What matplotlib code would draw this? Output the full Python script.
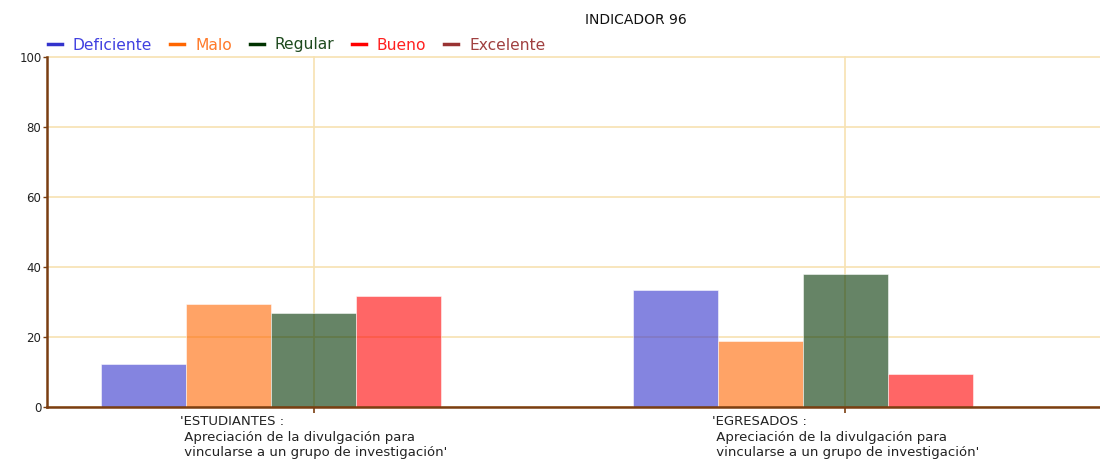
import matplotlib.pyplot as plt
import numpy as np
from matplotlib.lines import Line2D

# datos del indicador
categorias = ["'ESTUDIANTES :\n Apreciación de la divulgación para\n vincularse a un grupo de investigación'",
              "'EGRESADOS :\n Apreciación de la divulgación para\n vincularse a un grupo de investigación'"]
series = ['Deficiente', 'Malo', 'Regular', 'Bueno', 'Excelente']
deficiente = [12.2, 33.3]
malo = [29.3, 19.0]
regular = [26.8, 38.1]
bueno = [31.7, 9.5]
excelente = [0, 0]
valores = [deficiente, malo, regular, bueno, excelente]

colores = ['#3333CC', '#FF6600', '#003300', '#FF0000', '#993333']
colores_texto = ['#4040E0', '#FF7A2A', '#1E4A1E', '#FF2020', '#A04040']
marron = '#7A3E12'

fig = plt.figure(figsize=(11, 4.62), dpi=100)
ax = fig.add_axes([47 / 1100, 1 - 407 / 462, 1 - 47 / 1100, 350 / 462])

x = np.arange(len(categorias))
ancho = 0.16
for i, (nombre, vals) in enumerate(zip(series, valores)):
    ax.bar(x + (i - 2) * ancho, vals, ancho, color=colores[i], alpha=0.6,
           edgecolor='white', linewidth=0.6, label=nombre)

ax.set_xlim(-0.502, 1.479)
ax.set_ylim(0, 100)
ax.set_yticks([0, 20, 40, 60, 80, 100])
ax.set_xticks(x)
ax.set_xticklabels(categorias, fontsize=9.5, color='#222222',
                   ha='center', multialignment='left', linespacing=1.25)

ax.set_axisbelow(True)
ax.grid(True, color='#F7E2B2', linewidth=1.2)
for g in ax.get_ygridlines() + ax.get_xgridlines():
    g.set_clip_on(False)

for lado in ['top', 'right']:
    ax.spines[lado].set_visible(False)
for lado in ['left', 'bottom']:
    ax.spines[lado].set_color(marron)
    ax.spines[lado].set_linewidth(1.8)
    ax.spines[lado].set_zorder(3)

ax.tick_params(axis='y', colors=marron, labelcolor='#222222', labelsize=8.5,
               length=3, width=1, pad=1)
ax.tick_params(axis='x', colors=marron, labelcolor='#222222',
               length=4, width=1.2, pad=2)

# leyenda con guiones de color
manejadores = [Line2D([0], [0], color=c, linewidth=2.5) for c in colores]
leg = fig.legend(manejadores, series, loc='center left',
                 bbox_to_anchor=(48 / 1100, 1 - 45 / 462), ncol=5,
                 frameon=False, fontsize=11.2, handlelength=0.9,
                 handletextpad=0.7, columnspacing=1.15,
                 borderpad=0, borderaxespad=0)
for t, c in zip(leg.get_texts(), colores_texto):
    t.set_color(c)

fig.text(636 / 1100, 1 - 20 / 462, 'INDICADOR 96', ha='center', va='center',
         fontsize=10, color='#111111')

fig.savefig('out.png', dpi=100, facecolor='white')
